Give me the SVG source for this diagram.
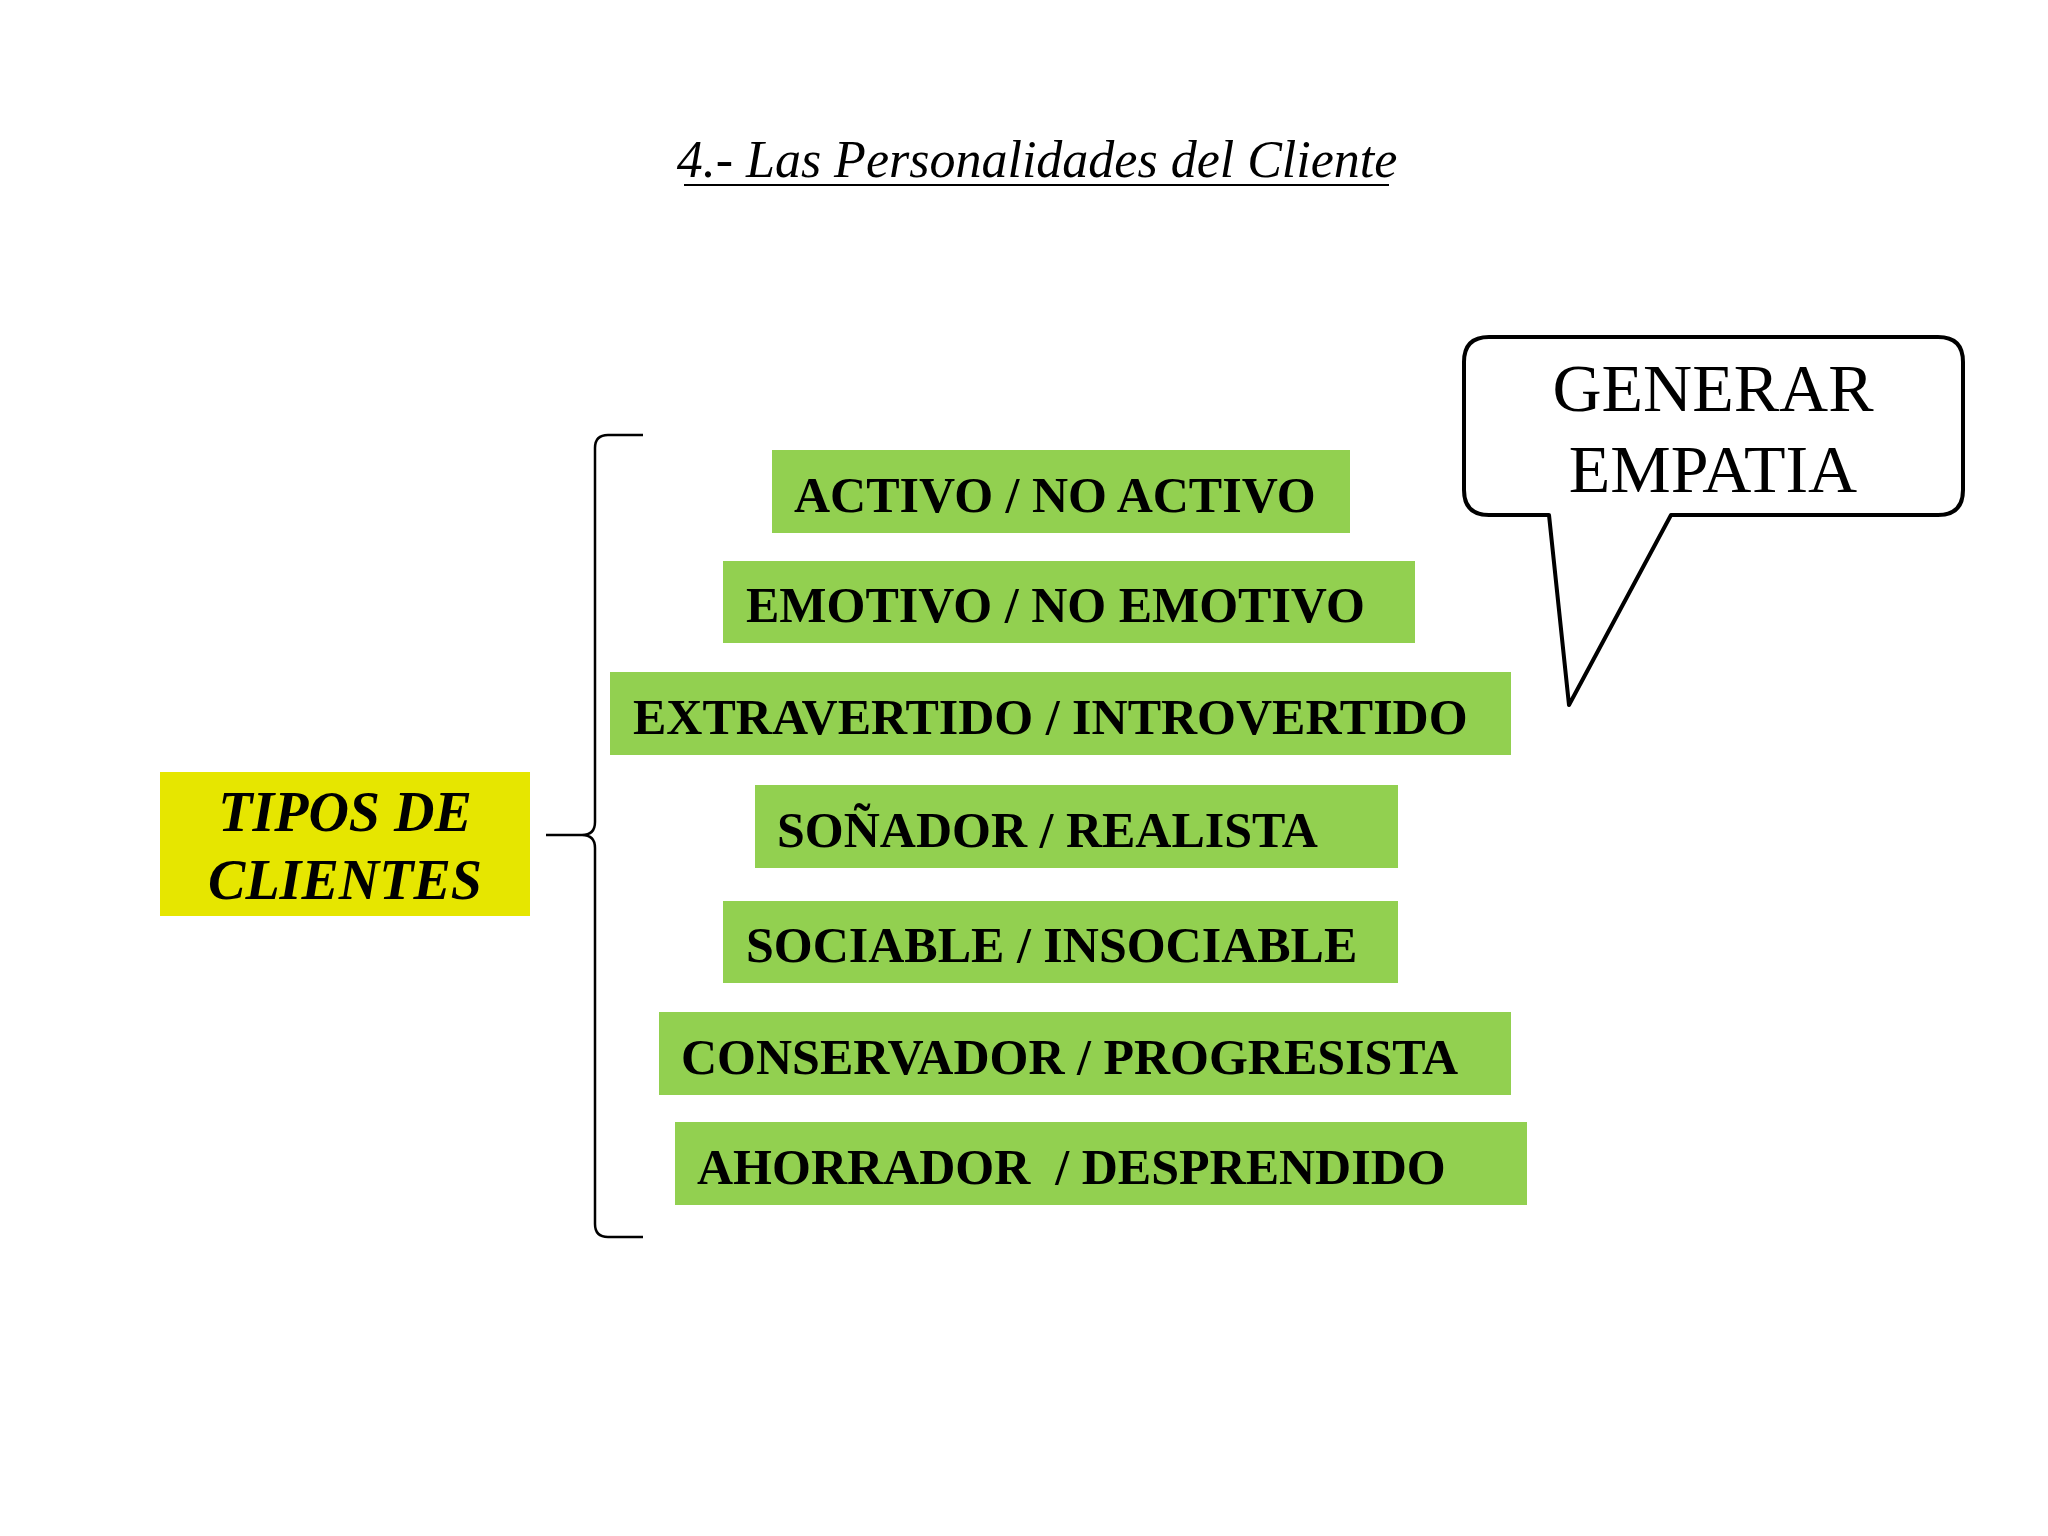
<svg xmlns="http://www.w3.org/2000/svg" width="2048" height="1536" viewBox="0 0 2048 1536">
<style>
.g{fill:#92d050}
.t{font-family:"Liberation Serif",serif;font-weight:bold;font-size:50px;fill:#000}
.c{font-family:"Liberation Serif",serif;font-size:68px;fill:#000;text-anchor:middle}
</style>
<rect width="2048" height="1536" fill="#fff"/>
<g id="title">
<text x="1037" y="177" text-anchor="middle" font-family="Liberation Serif,serif" font-style="italic" font-size="52" fill="#000">4.- Las Personalidades del Cliente</text>
<line x1="684" y1="185" x2="1389" y2="185" stroke="#000" stroke-width="2"/>
</g>
<g id="tipos">
<rect x="160" y="772" width="370" height="144" fill="#e6e600"/>
<text x="345" y="831" text-anchor="middle" font-family="Liberation Serif,serif" font-weight="bold" font-style="italic" font-size="56">TIPOS DE</text>
<text x="345" y="899" text-anchor="middle" font-family="Liberation Serif,serif" font-weight="bold" font-style="italic" font-size="56">CLIENTES</text>
</g>
<g id="connectors">
<path d="M643 435 L608 435 Q595 435 595 448 L595 822 Q595 835 582 835 L546 835 L582 835 Q595 835 595 848 L595 1224 Q595 1237 608 1237 L643 1237" fill="none" stroke="#000" stroke-width="2.5"/>
</g>
<g id="n1"><rect class="g" x="772" y="450" width="578" height="83"/><text class="t" x="794" y="512">ACTIVO / NO ACTIVO</text></g>
<g id="n2"><rect class="g" x="723" y="561" width="692" height="82"/><text class="t" x="746" y="622">EMOTIVO / NO EMOTIVO</text></g>
<g id="n3"><rect class="g" x="610" y="672" width="901" height="83"/><text class="t" x="633" y="734">EXTRAVERTIDO / INTROVERTIDO</text></g>
<g id="n4"><rect class="g" x="755" y="785" width="643" height="83"/><text class="t" x="777" y="847">SOÑADOR / REALISTA</text></g>
<g id="n5"><rect class="g" x="723" y="901" width="675" height="82"/><text class="t" x="746" y="962">SOCIABLE / INSOCIABLE</text></g>
<g id="n6"><rect class="g" x="659" y="1012" width="852" height="83"/><text class="t" x="681" y="1074">CONSERVADOR / PROGRESISTA</text></g>
<g id="n7"><rect class="g" x="675" y="1122" width="852" height="83"/><text class="t" x="697" y="1184" xml:space="preserve">AHORRADOR  / DESPRENDIDO</text></g>
<g id="callout">
<path d="M1489 337 L1938 337 Q1963 337 1963 362 L1963 490 Q1963 515 1938 515 L1671 515 L1569 705 L1549 515 L1489 515 Q1464 515 1464 490 L1464 362 Q1464 337 1489 337 Z" fill="#fff" stroke="#000" stroke-width="4" stroke-linejoin="round"/>
<text class="c" x="1713" y="411">GENERAR</text>
<text class="c" x="1713" y="492">EMPATIA</text>
</g>
</svg>
